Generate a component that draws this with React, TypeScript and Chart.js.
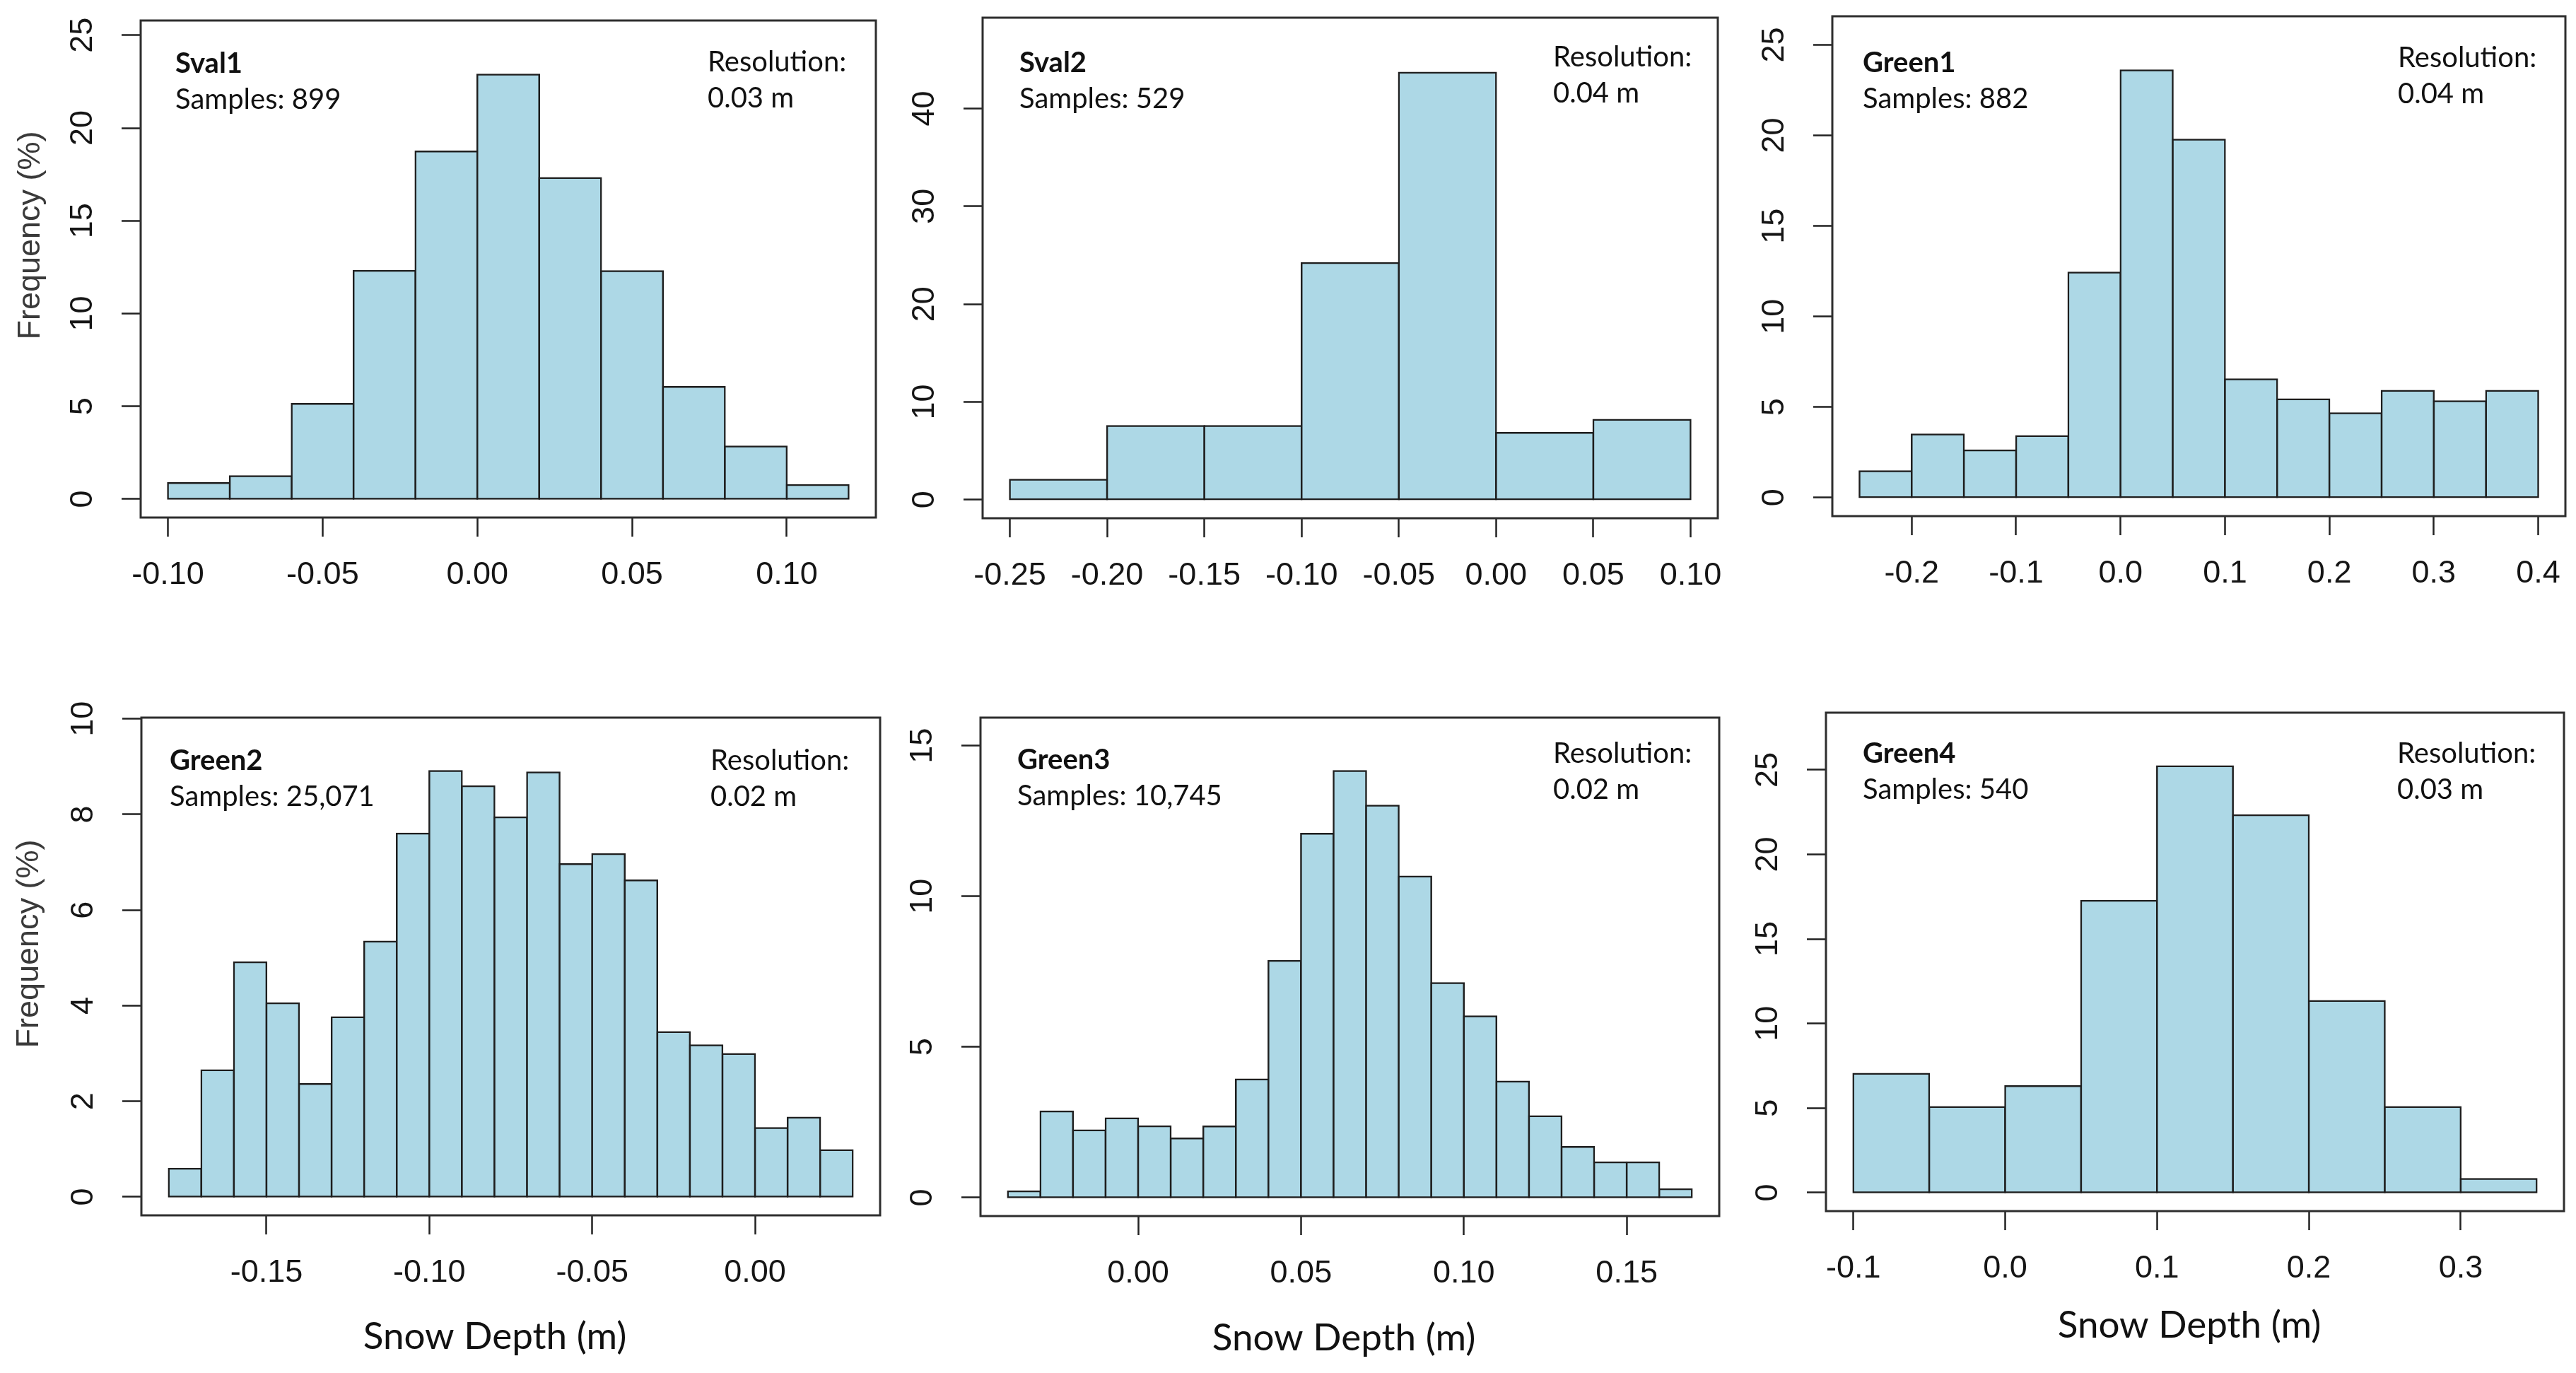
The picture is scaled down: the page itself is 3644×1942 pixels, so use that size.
import React, { useEffect, useRef } from 'react';
import { Chart, registerables } from 'chart.js';

Chart.register(...registerables);

// ---------------- DATA ----------------
const sval1Edges = [-0.10, -0.08, -0.06, -0.04, -0.02, 0.00, 0.02, 0.04, 0.06, 0.08, 0.10, 0.12];
const sval1Freq = [0.87, 1.24, 5.13, 12.30, 18.73, 22.88, 17.31, 12.29, 6.05, 2.84, 0.76];
const sval1XTicks = [-0.10, -0.05, 0.00, 0.05, 0.10];
const sval1XLabels = ['-0.10', '-0.05', '0.00', '0.05', '0.10'];
const sval1YTicks = [0, 5, 10, 15, 20, 25];
const sval1YLim = 24.8;

const sval2Edges = [-0.25, -0.20, -0.15, -0.10, -0.05, 0.00, 0.05, 0.10];
const sval2Freq = [2.04, 7.54, 7.54, 24.20, 43.67, 6.83, 8.17];
const sval2XTicks = [-0.25, -0.20, -0.15, -0.10, -0.05, 0.00, 0.05, 0.10];
const sval2XLabels = ['-0.25', '-0.20', '-0.15', '-0.10', '-0.05', '0.00', '0.05', '0.10'];
const sval2YTicks = [0, 10, 20, 30, 40];
const sval2YLim = 47.4;

const green1Edges = [-0.25, -0.20, -0.15, -0.10, -0.05, 0.00, 0.05, 0.10, 0.15, 0.20, 0.25, 0.30, 0.35, 0.40];
const green1Freq = [1.46, 3.49, 2.61, 3.40, 12.43, 23.60, 19.77, 6.53, 5.43, 4.66, 5.90, 5.32, 5.90];
const green1XTicks = [-0.2, -0.1, 0.0, 0.1, 0.2, 0.3, 0.4];
const green1XLabels = ['-0.2', '-0.1', '0.0', '0.1', '0.2', '0.3', '0.4'];
const green1YTicks = [0, 5, 10, 15, 20, 25];
const green1YLim = 25.56;

const green2Edges = [-0.18, -0.17, -0.16, -0.15, -0.14, -0.13, -0.12, -0.11, -0.10, -0.09, -0.08, -0.07, -0.06, -0.05, -0.04, -0.03, -0.02, -0.01, 0.00, 0.01, 0.02, 0.03];
const green2Freq = [0.59, 2.65, 4.91, 4.05, 2.36, 3.76, 5.34, 7.60, 8.91, 8.59, 7.94, 8.88, 6.96, 7.17, 6.62, 3.45, 3.17, 2.99, 1.44, 1.66, 0.98];
const green2XTicks = [-0.15, -0.10, -0.05, 0.00];
const green2XLabels = ['-0.15', '-0.10', '-0.05', '0.00'];
const green2YTicks = [0, 2, 4, 6, 8, 10];
const green2YLim = 9.64;

const green3Edges = [-0.04, -0.03, -0.02, -0.01, 0.00, 0.01, 0.02, 0.03, 0.04, 0.05, 0.06, 0.07, 0.08, 0.09, 0.10, 0.11, 0.12, 0.13, 0.14, 0.15, 0.16, 0.17];
const green3Freq = [0.21, 2.86, 2.23, 2.63, 2.37, 1.96, 2.36, 3.92, 7.86, 12.08, 14.16, 13.01, 10.66, 7.12, 6.02, 3.85, 2.70, 1.68, 1.17, 1.17, 0.28];
const green3XTicks = [0.00, 0.05, 0.10, 0.15];
const green3XLabels = ['0.00', '0.05', '0.10', '0.15'];
const green3YTicks = [0, 5, 10, 15];
const green3YLim = 15.32;

const green4Edges = [-0.10, -0.05, 0.00, 0.05, 0.10, 0.15, 0.20, 0.25, 0.30, 0.35];
const green4Freq = [7.03, 5.06, 6.30, 17.26, 25.21, 22.32, 11.33, 5.06, 0.81];
const green4XTicks = [-0.1, 0.0, 0.1, 0.2, 0.3];
const green4XLabels = ['-0.1', '0.0', '0.1', '0.2', '0.3'];
const green4YTicks = [0, 5, 10, 15, 20, 25];
const green4YLim = 27.29;

const siteNames = ['Sval1', 'Sval2', 'Green1', 'Green2', 'Green3', 'Green4'];
const sampleTexts = ['Samples: 899', 'Samples: 529', 'Samples: 882', 'Samples: 25,071', 'Samples: 10,745', 'Samples: 540'];
const resolutionTexts = ['0.03 m', '0.04 m', '0.04 m', '0.02 m', '0.02 m', '0.03 m'];
const resolutionLabel = 'Resolution:';
const yTitle = 'Frequency (%)';
const xTitle = 'Snow Depth (m)';

// ---------------- LAYOUT ----------------
const PAD_L = 190;
const PAD_T = 40;
const PAD_R = 12;
const PAD_B = 210;

type Layout = {
  l: number; t: number; r: number; b: number;
  nameDx: number; nameDy: number; resDx: number; resDy: number;
  yTitle?: { dx: number; dy: number };
  xTitle?: { dx: number; dy: number };
};

const layouts: Layout[] = [
  { l: 199, t: 29, r: 1239, b: 732, nameDx: 49, nameDy: 74, resDx: 238, resDy: 72, yTitle: { dx: 155, dy: 304 } },
  { l: 1390, t: 25, r: 2430, b: 733, nameDx: 52, nameDy: 77, resDx: 233, resDy: 69 },
  { l: 2592, t: 23, r: 3629, b: 730, nameDx: 43, nameDy: 79, resDx: 237, resDy: 72 },
  { l: 200, t: 1015, r: 1245, b: 1719, nameDx: 40, nameDy: 74, resDx: 240, resDy: 74, yTitle: { dx: 158, dy: 320 }, xTitle: { dx: 500, dy: 189 } },
  { l: 1387, t: 1015, r: 2432, b: 1720, nameDx: 52, nameDy: 73, resDx: 235, resDy: 64, xTitle: { dx: 514, dy: 190 } },
  { l: 2583, t: 1008, r: 3627, b: 1713, nameDx: 52, nameDy: 71, resDx: 236, resDy: 71, xTitle: { dx: 514, dy: 179 } },
];

type PanelData = {
  edges: number[]; freq: number[]; xTicks: number[]; xLabels: string[]; yTicks: number[]; yLim: number;
};

const panelData: PanelData[] = [
  { edges: sval1Edges, freq: sval1Freq, xTicks: sval1XTicks, xLabels: sval1XLabels, yTicks: sval1YTicks, yLim: sval1YLim },
  { edges: sval2Edges, freq: sval2Freq, xTicks: sval2XTicks, xLabels: sval2XLabels, yTicks: sval2YTicks, yLim: sval2YLim },
  { edges: green1Edges, freq: green1Freq, xTicks: green1XTicks, xLabels: green1XLabels, yTicks: green1YTicks, yLim: green1YLim },
  { edges: green2Edges, freq: green2Freq, xTicks: green2XTicks, xLabels: green2XLabels, yTicks: green2YTicks, yLim: green2YLim },
  { edges: green3Edges, freq: green3Freq, xTicks: green3XTicks, xLabels: green3XLabels, yTicks: green3YTicks, yLim: green3YLim },
  { edges: green4Edges, freq: green4Freq, xTicks: green4XTicks, xLabels: green4XLabels, yTicks: green4YTicks, yLim: green4YLim },
];

const AXIS_FONT = "'Liberation Sans', Arial, sans-serif";
const NOTE_FONT = "Lato, 'Open Sans', sans-serif";
const BAR_FILL = '#ADD8E6';
const BAR_LINE = '#1e1e1e';
const BAR_LW = 2.5;

function zeroPadding(s: any) {
  s.paddingLeft = 0;
  s.paddingRight = 0;
  s.paddingTop = 0;
  s.paddingBottom = 0;
}

function HistPanel({ idx }: { idx: number }) {
  const ref = useRef<HTMLCanvasElement>(null);
  const lay = layouts[idx];
  const d = panelData[idx];

  useEffect(() => {
    const canvas = ref.current;
    if (!canvas) return;
    const span = d.edges[d.edges.length - 1] - d.edges[0];
    const xMin = d.edges[0] - 0.04 * span;
    const xMax = d.edges[d.edges.length - 1] + 0.04 * span;
    const yMin = -0.04 * d.yLim;
    const yMax = 1.04 * d.yLim;
    const points = d.freq.map((f, i) => ({ x: (d.edges[i] + d.edges[i + 1]) / 2, y: f }));

    const framePlugin = {
      id: 'frameAndNotes' + idx,
      afterDraw(chart: any) {
        const { ctx, chartArea } = chart;
        const { left, top, right, bottom } = chartArea;
        ctx.save();
        ctx.strokeStyle = '#2e2e2e';
        ctx.lineWidth = 3;
        ctx.strokeRect(left, top, right - left, bottom - top);

        ctx.fillStyle = '#111';
        ctx.textAlign = 'left';
        ctx.textBaseline = 'alphabetic';
        ctx.font = `bold 40px ${NOTE_FONT}`;
        ctx.fillText(siteNames[idx], left + lay.nameDx, top + lay.nameDy);
        ctx.font = `40px ${NOTE_FONT}`;
        ctx.fillText(sampleTexts[idx], left + lay.nameDx, top + lay.nameDy + 51);
        ctx.fillText(resolutionLabel, right - lay.resDx, top + lay.resDy);
        ctx.fillText(resolutionTexts[idx], right - lay.resDx, top + lay.resDy + 51);

        if (lay.xTitle) {
          ctx.textAlign = 'center';
          ctx.font = `53px ${NOTE_FONT}`;
          ctx.fillStyle = '#111';
          ctx.fillText(xTitle, left + lay.xTitle.dx, bottom + lay.xTitle.dy);
        }
        if (lay.yTitle) {
          ctx.translate(left - lay.yTitle.dx, top + lay.yTitle.dy);
          ctx.rotate(-Math.PI / 2);
          ctx.textAlign = 'center';
          ctx.textBaseline = 'middle';
          ctx.font = `45px ${AXIS_FONT}`;
          ctx.fillStyle = '#3a3a3a';
          ctx.fillText(yTitle, 0, 0);
        }
        ctx.restore();
      },
    };

    const chart = new Chart(canvas, {
      type: 'bar',
      data: {
        datasets: [
          {
            data: points as any,
            backgroundColor: BAR_FILL,
            borderColor: BAR_LINE,
            borderWidth: BAR_LW,
            borderSkipped: false,
            inflateAmount: BAR_LW / 2,
            barPercentage: 1,
            categoryPercentage: 1,
          } as any,
        ],
      },
      options: {
        responsive: false,
        animation: false,
        devicePixelRatio: 1,
        layout: { padding: { left: 0, top: PAD_T, right: PAD_R, bottom: 0 } },
        plugins: {
          legend: { display: false },
          tooltip: { enabled: false },
          title: { display: false },
        },
        scales: {
          x: {
            type: 'linear',
            min: xMin,
            max: xMax,
            offset: false,
            afterFit: (s: any) => { s.height = PAD_B; zeroPadding(s); },
            afterBuildTicks: (s: any) => { s.ticks = d.xTicks.map((v) => ({ value: v })); },
            grid: { drawOnChartArea: false, drawTicks: true, tickLength: 27, tickWidth: 2.5, tickColor: '#222', offset: false },
            border: { display: false },
            ticks: {
              autoSkip: false,
              maxRotation: 0,
              minRotation: 0,
              padding: 28,
              color: '#151515',
              font: { size: 45, family: AXIS_FONT },
              callback: (_v: any, i: number) => d.xLabels[i],
            },
          },
          y: {
            type: 'linear',
            position: 'left',
            min: yMin,
            max: yMax,
            afterFit: (s: any) => { s.width = PAD_L; zeroPadding(s); },
            afterBuildTicks: (s: any) => { s.ticks = d.yTicks.map((v) => ({ value: v })); },
            grid: { drawOnChartArea: false, drawTicks: true, tickLength: 27, tickWidth: 2.5, tickColor: '#222' },
            border: { display: false },
            ticks: {
              autoSkip: false,
              minRotation: 90,
              maxRotation: 90,
              crossAlign: 'center',
              padding: 29,
              color: '#151515',
              font: { size: 45, family: AXIS_FONT },
              callback: (v: any) => String(v),
            },
          },
        },
      } as any,
      plugins: [framePlugin],
    });
    return () => chart.destroy();
  }, []);

  const w = lay.r - lay.l + PAD_L + PAD_R;
  const h = lay.b - lay.t + PAD_T + PAD_B;
  return (
    <canvas
      ref={ref}
      width={w}
      height={h}
      style={{ position: 'absolute', left: lay.l - PAD_L, top: lay.t - PAD_T, width: w, height: h }}
    />
  );
}

export default function App() {
  return (
    <div style={{ position: 'absolute', left: 0, top: 0, width: 3644, height: 1942, background: '#fff' }}>
      {layouts.map((_, i) => (
        <HistPanel key={i} idx={i} />
      ))}
    </div>
  );
}
